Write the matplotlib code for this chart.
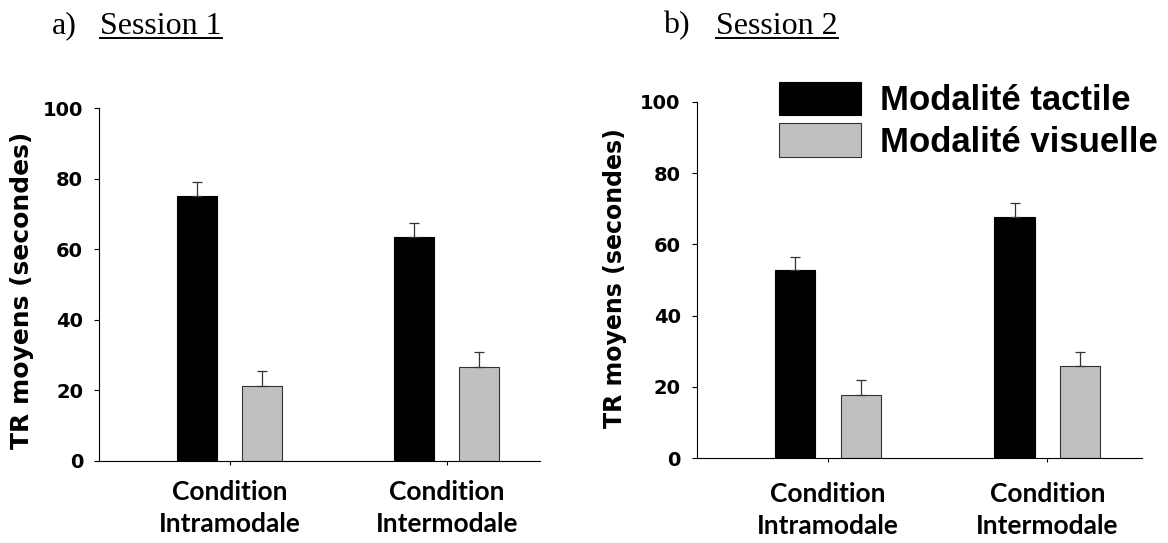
"""
Temps de réaction moyens par session, condition et modalité.
"""

import matplotlib
matplotlib.use("Agg")
import matplotlib.pyplot as plt
import numpy as np
from matplotlib.lines import Line2D

conditions = ["Condition\nIntramodale", "Condition\nIntermodale"]
modalites = ["Modalité tactile", "Modalité visuelle"]
yticks = [0, 20, 40, 60, 80, 100]

# Session 1
s1_tactile = [75.0, 63.4]
s1_tactile_err = [4.1, 4.0]
s1_visuel = [21.2, 26.6]
s1_visuel_err = [4.3, 4.3]

# Session 2
s2_tactile = [52.7, 67.6]
s2_tactile_err = [3.7, 3.9]
s2_visuel = [17.8, 25.8]
s2_visuel_err = [4.1, 3.9]

W, H = 1168, 543
fig = plt.figure(figsize=(W / 100, H / 100), dpi=100)

ax1 = fig.add_axes([99.3 / W, (H - 461) / H, 440.7 / W, 352.7 / H])
ax2 = fig.add_axes([696.7 / W, (H - 458.3) / H, 445 / W, 356.6 / H])


def panel(ax, tactile, t_err, visuel, v_err, xpad, ylab_size, ylab_xy):
    x = np.arange(len(conditions))
    bw = 0.183
    b1 = ax.bar(x - 0.15, tactile, width=bw, color="black",
                edgecolor="black", linewidth=0.8, zorder=2, label=modalites[0])
    b2 = ax.bar(x + 0.15, visuel, width=bw, color="#c0c0c0",
                edgecolor="#333333", linewidth=0.8, zorder=2, label=modalites[1])
    ax.errorbar(x - 0.15, tactile, yerr=[[0] * len(x), t_err], fmt="none",
                ecolor="#333333", elinewidth=0.9, capsize=3.6, capthick=0.9, zorder=3)
    ax.errorbar(x + 0.15, visuel, yerr=[[0] * len(x), v_err], fmt="none",
                ecolor="#333333", elinewidth=0.9, capsize=3.6, capthick=0.9, zorder=3)

    ax.set_xlim(-0.6, 1.43)
    ax.set_ylim(0, 100)
    ax.set_yticks(yticks)
    ax.set_yticklabels([str(v) for v in yticks], fontsize=14, fontweight="bold")
    ax.set_xticks(x)
    ax.set_xticklabels(conditions, fontfamily="Lato", fontweight="bold",
                       fontsize=19, linespacing=1.4)
    ax.tick_params(axis="x", length=3, width=0.8, pad=xpad)
    ax.tick_params(axis="y", length=3.6, width=0.8, pad=8)
    for s in ["top", "right"]:
        ax.spines[s].set_visible(False)
    for s in ["left", "bottom"]:
        ax.spines[s].set_linewidth(0.8)

    ax.set_ylabel("TR moyens (secondes)", fontsize=ylab_size, fontweight="bold")
    ax.yaxis.set_label_coords(*ylab_xy)
    return b1, b2


panel(ax1, s1_tactile, s1_tactile_err, s1_visuel, s1_visuel_err,
      11, 18, (-0.148, 0.483))
h1, h2 = panel(ax2, s2_tactile, s2_tactile_err, s2_visuel, s2_visuel_err,
               14, 17, (-0.157, 0.506))

ax2.legend(handles=[h1, h2], loc="upper left",
           bbox_to_anchor=(779 / W, 1 - 82 / H), bbox_transform=fig.transFigure,
           frameon=False, prop=dict(family="Liberation Sans", weight="bold", size=25),
           handlelength=2.36, handleheight=1.1, handletextpad=0.55,
           labelspacing=0.17, borderpad=0, borderaxespad=0)

# titres a) / b) avec soulignement
serif = dict(family="Liberation Serif", size=23, va="baseline")
ty = 1 - 33.5 / H
fig.text(52 / W, ty, "a)", **serif)
t1 = fig.text(100 / W, ty, "Session 1", **serif)
fig.text(663 / W, ty, "b)", **serif)
t2 = fig.text(716 / W, ty, "Session 2", **serif)

fig.canvas.draw()
r = fig.canvas.get_renderer()
for t in (t1, t2):
    bb = t.get_window_extent(r)
    yl = 1 - 38 / H
    fig.add_artist(Line2D([bb.x0 / W, bb.x1 / W], [yl, yl], color="black",
                          linewidth=1.4, transform=fig.transFigure))

fig.savefig("out.png", dpi=100)
